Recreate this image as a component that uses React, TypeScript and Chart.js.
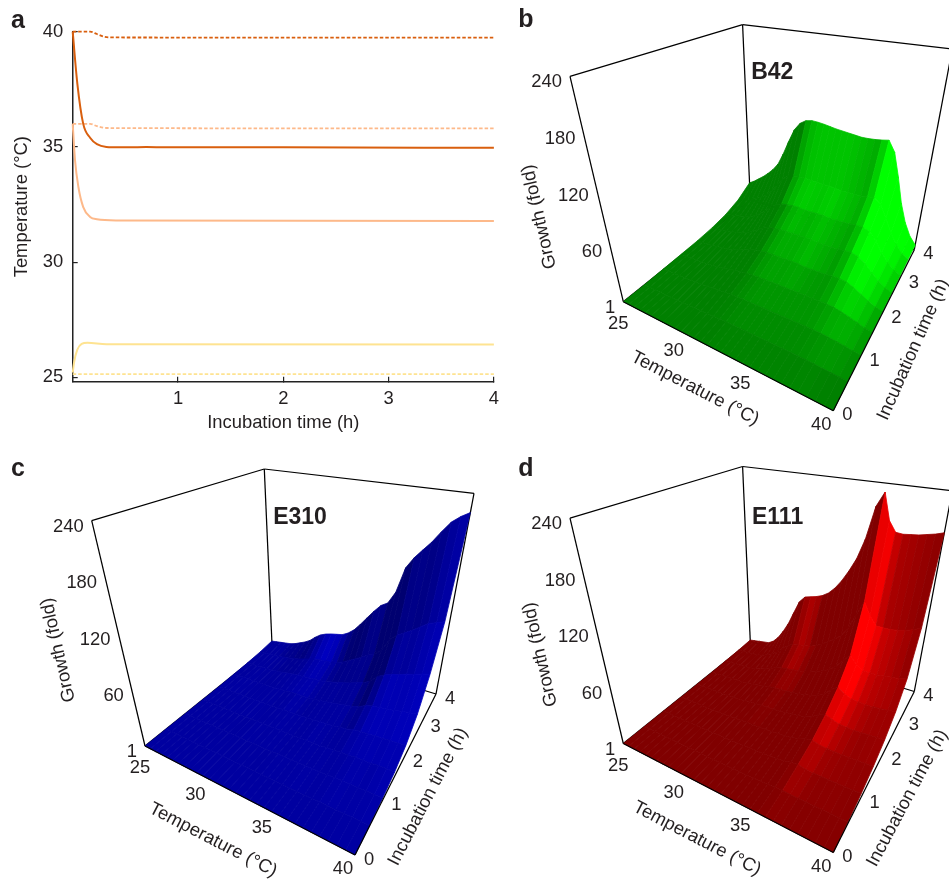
import React, { useEffect, useRef } from "react";
import { Chart, registerables } from "chart.js";

Chart.register(...registerables);

const FONT = '"Liberation Sans", Arial, sans-serif';
const INK = "#231f20";

// ---------- panel a ----------
const HOT_SOLID_T = [0, 0.044, 0.1, 0.165, 0.23, 0.32, 0.45, 0.7, 0.89, 2, 4];
const HOT_SOLID_V = [40, 37.75, 36, 35.4, 35.12, 35.0, 34.98, 35.0, 34.98, 34.98, 34.96];
const HOT_DASH_T = [0, 0.1, 0.165, 0.23, 0.3, 0.4, 4];
const HOT_DASH_V = [40, 40, 40, 39.9, 39.78, 39.75, 39.74];
const MID_SOLID_T = [0, 0.022, 0.054, 0.1, 0.165, 0.23, 0.42, 4];
const MID_SOLID_V = [36, 34.42, 33.26, 32.39, 31.96, 31.86, 31.81, 31.78];
const MID_DASH_T = [0, 0.1, 0.165, 0.23, 0.32, 4];
const MID_DASH_V = [36, 36, 36, 35.9, 35.82, 35.8];
const LOW_SOLID_T = [0, 0.013, 0.044, 0.085, 0.14, 0.32, 4];
const LOW_SOLID_V = [25.2, 25.65, 26.2, 26.45, 26.5, 26.43, 26.42];
const LOW_DASH_T = [0, 4];
const LOW_DASH_V = [25.14, 25.14];
const A_X_TICKS = [1, 2, 3, 4];
const A_Y_TICKS = [25, 30, 35, 40];

// ---------- panels b, c, d ----------
const GROWTH_TICKS = [240, 180, 120, 60, 1];
const TEMP_TICKS = [25, 30, 35, 40];
const TIME_TICKS = [0, 1, 2, 3, 4];
const TIME_ROWS = [0, 0.5, 1, 1.5, 2, 2.5, 3, 3.5, 4];
const TEMP_COLS = [25, 25.5, 26, 26.5, 27, 27.5, 28, 28.5, 29, 29.5, 30, 30.5, 31, 31.5, 32, 32.5, 33, 33.5, 34, 34.5, 35, 35.5, 36, 36.5, 37, 37.5, 38, 38.5, 39, 39.5, 40];

const START_FLAT = [1, 1, 1, 1, 1, 1, 1, 1, 1, 1, 1, 1, 1, 1, 1, 1, 1, 1, 1, 1, 1, 1, 1, 1, 1, 1, 1, 1, 1, 1, 1];

const B42_T05 = [1, 1, 1, 1, 1, 1.1, 1.2, 1.3, 1.5, 1.7, 2, 2.2, 2.5, 2.8, 3, 3, 3, 3, 3, 3, 3, 3, 3, 3, 3, 3, 2.7, 2.3, 2, 1.7, 1.5];
const B42_T1 = [1.5, 1.5, 1.5, 1.8, 2, 2.2, 2.5, 3, 3.5, 4.2, 5, 5.5, 6, 6.2, 6.5, 6.5, 6.5, 6.5, 6.5, 6.5, 6.5, 6.5, 6.5, 6.5, 6.5, 6.2, 5.7, 5, 4, 2.8, 2];
const B42_T15 = [2, 2.2, 2.5, 2.8, 3, 3.5, 4, 5, 6, 7.5, 9, 10, 11, 11.5, 12, 12, 12, 12, 12, 12, 12, 12, 12, 12, 12, 11.5, 10, 8, 6, 3.5, 2.5];
const B42_T2 = [2.5, 3, 3.5, 4, 5, 6, 7, 9, 11, 14, 16, 18, 19, 20, 20, 20, 20, 20, 20, 19, 19, 19, 19, 20, 20, 19, 16, 12, 8, 4.5, 3];
const B42_T25 = [4, 5, 6, 7, 8, 9.5, 11, 14, 17, 22, 26, 29, 30, 31, 31, 31, 31, 31, 31, 30, 30, 30, 30, 31, 31, 29, 24, 17, 11, 6, 3.5];
const B42_T3 = [7, 8.5, 10, 11.5, 13, 15, 18, 23, 28, 35, 40, 43, 44, 45, 45, 44, 44, 44, 44, 43, 43, 43, 43, 44, 44, 41, 33, 22, 14, 8, 4.5];
const B42_T35 = [13, 15, 17, 20, 23, 27, 31, 39, 48, 57, 63, 65, 66, 66, 65, 65, 64, 64, 63, 62, 62, 62, 62, 63, 64, 58, 44, 29, 18, 10, 5.5];
const B42_T4 = [24, 28, 33, 38, 44, 51, 60, 75, 93, 110, 120, 125, 126.5, 126, 125, 123.5, 122, 121, 120, 119, 118, 118, 118.5, 119.5, 121, 108, 80, 50, 29, 15, 6.5];

const E310_T05 = [1, 1, 1, 1, 1, 1, 1, 1, 1, 1, 1, 1, 1, 1, 1, 1, 1, 1, 1, 1, 1, 1, 1, 1.2, 1.2, 1.3, 1.3, 1.4, 1.5, 1.5, 1.6];
const E310_T1 = [1, 1, 1, 1, 1, 1, 1, 1, 1, 1, 1, 1, 1, 1, 1, 1.2, 1.5, 1.5, 1.5, 1.8, 2, 2, 2, 2.5, 3, 3, 3, 3, 3.5, 3.5, 3.5];
const E310_T15 = [1, 1, 1, 1, 1, 1, 1, 1, 1, 1.2, 1.5, 1.5, 1.5, 1.8, 2, 2, 2, 2.5, 3, 3, 3, 4, 4, 5, 5, 6, 6, 6, 7, 7, 7];
const E310_T2 = [1, 1, 1, 1.2, 1.3, 1.4, 1.5, 1.8, 2, 2, 2, 2.5, 3, 3, 3, 3.5, 4, 4.5, 5, 5.5, 6, 7, 8, 10, 11, 11, 12, 12, 13, 13, 14];
const E310_T25 = [1.5, 1.7, 2, 2, 2, 2.2, 2.5, 2.8, 3, 3.5, 4, 4.5, 5, 5, 5, 6, 7, 8, 9, 10.5, 12, 13, 15, 19, 21, 22, 23, 24, 26, 27, 28];
const E310_T3 = [2, 2.2, 2.5, 2.8, 3, 3.5, 4, 5, 6, 7, 8, 8.5, 9, 9.5, 10, 11, 13, 15, 17, 19, 22, 24, 28, 36, 40, 43, 45, 48, 50, 53, 55];
const E310_T35 = [3, 3.5, 4, 4.5, 5, 6, 7, 8.5, 10, 12, 14, 16, 17, 17.5, 18, 20, 23, 27, 31, 35, 40, 43, 50, 65, 72, 77, 82, 88, 94, 97, 100];
const E310_T4 = [5, 6, 7, 8, 9, 11, 14, 17, 21, 27, 32, 35, 37, 38.5, 40, 44, 50, 59, 69, 79, 88, 93, 108, 140, 154, 165, 176, 190, 203, 211, 217];

const E111_T05 = [1, 1, 1, 1, 1, 1, 1, 1, 1, 1, 1, 1, 1, 1, 1, 1, 1.2, 1.3, 1.5, 1.7, 2, 2.5, 3, 2.5, 2.5, 2.5, 2.5, 2.5, 2.5, 2.5, 2.5];
const E111_T1 = [1, 1, 1, 1, 1, 1, 1, 1, 1, 1.2, 1.5, 1.5, 1.5, 1.7, 2, 2.2, 2.5, 2.7, 3, 3.5, 4.5, 6, 7, 5.5, 5, 5, 5, 5, 5, 5.2, 5.5];
const E111_T15 = [1, 1, 1, 1, 1, 1, 1, 1.2, 1.5, 1.7, 2, 2.5, 3, 3, 3, 3.5, 4, 4.5, 5, 6, 8, 10.5, 12, 10, 9.5, 9.2, 9, 9.2, 9.5, 9.8, 10];
const E111_T2 = [1, 1, 1, 1, 1, 1.2, 1.5, 1.7, 2, 3, 4, 4.5, 5, 5.2, 5.5, 6, 7, 8, 9, 10.5, 13, 18, 21, 18, 16, 15.5, 15, 15.5, 16, 16.5, 17];
const E111_T25 = [1, 1.2, 1.5, 1.7, 2, 2.2, 2.5, 3, 4, 5.5, 7, 8, 9, 9.5, 10, 11, 12, 13.5, 15, 17.5, 21, 29, 34, 29, 26, 25.5, 25, 25.5, 26, 27, 28];
const E111_T3 = [1.5, 1.7, 2, 2.2, 2.5, 3, 4, 6, 8, 11, 14, 16, 17, 18, 19, 20, 22, 25, 28, 32, 38, 47, 55, 47, 42, 42, 42, 43, 44, 45, 47];
const E111_T35 = [2, 2.5, 3, 3.5, 4, 5.5, 8, 11.5, 16, 22, 28, 32, 33, 34, 35, 38, 42, 47, 52, 59, 70, 88, 105, 90, 80, 80, 80, 81, 83, 86, 90];
const E111_T4 = [3, 4, 5, 6, 7, 11, 18, 28, 40, 56, 72, 80, 82, 84, 87, 92, 100, 111, 125, 142, 168, 210, 229, 195, 182, 181, 182, 183, 185, 187, 190];

type P = [number, number];
type Cfg = {
  name: string; letter: string; letterAt: P; origin: P; size: P; color: number[];
  rows: number[][]; look: { floor: number; gain: number; min: number; max: number };
  nameAt: P; tempAt: P; timeAt: P; growthAt: P; timeRot: number;
};

const PANELS: Cfg[] = [
  { name: "B42", letter: "b", letterAt: [11, 20], origin: [108.3, 301.7], size: [434, 440], color: [0, 255, 0],
    rows: [START_FLAT, B42_T05, B42_T1, B42_T15, B42_T2, B42_T25, B42_T3, B42_T35, B42_T4],
    look: { floor: 0.47, gain: 1.2, min: 0.5, max: 1 },
    nameAt: [149, -229], tempAt: [71.7, 86.7], timeAt: [290, 48], growthAt: [-84, -85], timeRot: -66 },
  { name: "E310", letter: "c", letterAt: [18, 29], origin: [145, 306], size: [510, 439], color: [0, 0, 255],
    rows: [START_FLAT, E310_T05, E310_T1, E310_T15, E310_T2, E310_T25, E310_T3, E310_T35, E310_T4],
    look: { floor: 0.63, gain: 0.8, min: 0.44, max: 0.92 },
    nameAt: [155, -228], tempAt: [68, 94], timeAt: [283, 50.7], growthAt: [-86.7, -96], timeRot: -62.6 },
  { name: "E111", letter: "d", letterAt: [11, 29], origin: [108.3, 303.5], size: [434, 439], color: [255, 0, 0],
    rows: [START_FLAT, E111_T05, E111_T1, E111_T15, E111_T2, E111_T25, E111_T3, E111_T35, E111_T4],
    look: { floor: 0.49, gain: 1.25, min: 0.5, max: 1 },
    nameAt: [154.3, -226], tempAt: [73.7, 95], timeAt: [284, 54.7], growthAt: [-83, -89], timeRot: -62 },
];

// box corners relative to the (25 °C, 0 h, floor) corner: p00, p10 (40 °C), p11, p01 (4 h)
const FLOOR: P[] = [[0, 0], [210, 109], [291, -52], [127, -102]];
const TOP: P[] = [[-53.3, -225.3], [236, -158], [329, -252.7], [119.3, -277]];

function homography(q: P[]) {
  const [[x0, y0], [x1, y1], [x2, y2], [x3, y3]] = q;
  const dx1 = x1 - x2, dx2 = x3 - x2, dy1 = y1 - y2, dy2 = y3 - y2;
  const sx = x0 - x1 + x2 - x3, sy = y0 - y1 + y2 - y3;
  const det = dx1 * dy2 - dx2 * dy1;
  const g = (sx * dy2 - dx2 * sy) / det, h = (dx1 * sy - sx * dy1) / det;
  const a = x1 - x0 + g * x1, b = x3 - x0 + h * x3;
  const d = y1 - y0 + g * y1, e = y3 - y0 + h * y3;
  return (u: number, v: number): P => {
    const w = g * u + h * v + 1;
    return [(a * u + b * v + x0) / w, (d * u + e * v + y0) / w];
  };
}
const floorAt = homography(FLOOR);
const topAt = homography(TOP);

function project(cfg: Cfg, temp: number, time: number, growth: number) {
  const u = (temp - 25) / 15, v = time / 4, w = (growth - 1) / 239;
  const f = floorAt(u, v), t = topAt(u, v);
  return { x: cfg.origin[0] + f[0] + (t[0] - f[0]) * w, y: cfg.origin[1] + f[1] + (t[1] - f[1]) * w };
}

function shade(cfg: Cfg, gx: number, gy: number) {
  const len = Math.hypot(gx, gy, 1);
  const dot = (0.75 * -gx - 0.6 * -gy + 0.6) / len / 0.985;
  const s = cfg.look.floor + cfg.look.gain * (dot - 0.61);
  return Math.min(cfg.look.max, Math.max(cfg.look.min, s));
}

function soften(a: number[]) {
  return a.map((v, i) => (a[Math.max(0, i - 1)] + 2 * v + a[Math.min(a.length - 1, i + 1)]) / 4);
}

function buildDatasets(cfg: Cfg) {
  const sets: any[] = [];
  const edge = (a: number[], b: number[]) => sets.push({
    data: [project(cfg, a[0], a[1], a[2]), project(cfg, b[0], b[1], b[2])],
    showLine: true, pointRadius: 0, borderColor: "#000", borderWidth: 1.25, fill: false,
  });
  // near floor edges sit on top of the surface (dataset 0 is painted last)
  edge([25, 0, 1], [40, 0, 1]);
  edge([40, 0, 1], [40, 4, 1]);
  const { rows } = cfg;
  const temps = TEMP_COLS;
  for (let r = 0; r < rows.length - 1; r++) {
    const h0 = TIME_ROWS[r], h1 = TIME_ROWS[r + 1];
    let gxs: number[] = [], gys: number[] = [];
    for (let c = 0; c < temps.length - 1; c++) {
      const dT = (temps[c + 1] - temps[c]) / 15;
      gxs.push(((rows[r][c + 1] - rows[r][c] + rows[r + 1][c + 1] - rows[r + 1][c]) / 2 / 239) / dT);
      gys.push(((rows[r + 1][c] - rows[r][c] + rows[r + 1][c + 1] - rows[r][c + 1]) / 2 / 239) / ((h1 - h0) / 4));
    }
    gxs = soften(gxs);
    gys = soften(soften(gys));
    for (let c = temps.length - 2; c >= 0; c--) {
      const t0 = temps[c], t1 = temps[c + 1];
      const s = shade(cfg, gxs[c], gys[c]);
      const col = `rgb(${cfg.color.map((k) => Math.round(k * s)).join(",")})`;
      const a = project(cfg, t0, h0, rows[r][c]);
      sets.push({
        data: [a, project(cfg, t1, h0, rows[r][c + 1]), project(cfg, t1, h1, rows[r + 1][c + 1]), project(cfg, t0, h1, rows[r + 1][c]), a],
        showLine: true, pointRadius: 0, borderColor: col, backgroundColor: col, borderWidth: 0.8, fill: "shape",
      });
    }
  }
  edge([25, 4, 1], [40, 4, 1]);
  edge([25, 0, 1], [25, 4, 1]);
  edge([25, 0, 1], [25, 0, 240]);
  edge([25, 4, 1], [25, 4, 240]);
  edge([40, 4, 1], [40, 4, 240]);
  edge([25, 0, 240], [25, 4, 240]);
  edge([25, 4, 240], [40, 4, 240]);
  return sets;
}

function textPlugin(cfg: Cfg) {
  return {
    id: "axisText",
    afterDraw(chart: any) {
      const c = chart.ctx;
      const put = (s: string, x: number, y: number, align: CanvasTextAlign, font: string, rot = 0) => {
        c.save();
        c.translate(x, y);
        c.rotate((rot * Math.PI) / 180);
        c.font = font;
        c.fillStyle = INK;
        c.textAlign = align;
        c.textBaseline = "middle";
        c.fillText(s, 0, 0);
        c.restore();
      };
      const tick = `18.4px ${FONT}`;
      const [ox, oy] = cfg.origin;
      GROWTH_TICKS.forEach((g) => {
        const p = project(cfg, 25, 0, g);
        put(String(g), p.x - 8, p.y + 6, "right", tick);
      });
      TEMP_TICKS.forEach((t) => {
        const p = project(cfg, t, 0, 1);
        const k = (t - 25) / 15;
        put(String(t), p.x - 5 - 7 * k, p.y + 22 - 8 * k, "center", tick);
      });
      TIME_TICKS.forEach((t) => {
        const p = project(cfg, 40, t, 1);
        put(String(t), p.x + 14, p.y + 4.5, "center", tick);
      });
      put("Temperature (°C)", ox + cfg.tempAt[0], oy + cfg.tempAt[1], "center", tick, 27.4);
      put("Incubation time (h)", ox + cfg.timeAt[0], oy + cfg.timeAt[1], "center", tick, cfg.timeRot);
      put("Growth (fold)", ox + cfg.growthAt[0], oy + cfg.growthAt[1], "center", tick, -102.7);
      put(cfg.name, ox + cfg.nameAt[0], oy + cfg.nameAt[1], "center", `bold 23px ${FONT}`);
      put(cfg.letter, cfg.letterAt[0], cfg.letterAt[1], "center", `bold 25px ${FONT}`);
    },
  };
}

function series(xs: number[], ys: number[], color: string, dashed: boolean) {
  return {
    data: xs.map((x, i) => ({ x, y: ys[i] })),
    borderColor: color, borderWidth: dashed ? 1.8 : 2, borderDash: dashed ? [3.5, 2] : [],
    pointRadius: 0, showLine: true, fill: false, cubicInterpolationMode: "monotone" as const, clip: false,
  };
}

export default function App() {
  const aRef = useRef<HTMLCanvasElement>(null);
  const bRef = useRef<HTMLCanvasElement>(null);
  const cRef = useRef<HTMLCanvasElement>(null);
  const dRef = useRef<HTMLCanvasElement>(null);

  useEffect(() => {
    document.body.style.margin = "0";
    const charts: Chart[] = [];
    const tickFont = { family: FONT, size: 18.4 };
    charts.push(new Chart(aRef.current!, {
      type: "scatter",
      data: {
        datasets: [
          series(HOT_SOLID_T, HOT_SOLID_V, "#d95f0e", false),
          series(HOT_DASH_T, HOT_DASH_V, "#d95f0e", true),
          series(MID_SOLID_T, MID_SOLID_V, "#fdb98a", false),
          series(MID_DASH_T, MID_DASH_V, "#fdb98a", true),
          series(LOW_SOLID_T, LOW_SOLID_V, "#fee391", false),
          series(LOW_DASH_T, LOW_DASH_V, "#fee391", true),
        ],
      },
      options: {
        animation: false, responsive: false,
        layout: { padding: { top: 31.7, right: 16 } },
        plugins: { legend: { display: false }, tooltip: { enabled: false } },
        scales: {
          x: {
            type: "linear", min: 0, max: 4,
            afterBuildTicks: (s: any) => { s.ticks = A_X_TICKS.map((value) => ({ value })); },
            afterFit: (s: any) => { s.height = 58.3; },
            grid: { drawOnChartArea: false, tickLength: -5, color: "#222", lineWidth: 1.2 },
            border: { color: "#222", width: 1.5 },
            ticks: { font: tickFont, color: INK, padding: 11, maxRotation: 0, autoSkip: false },
            title: { display: true, text: "Incubation time (h)", font: tickFont, color: INK, padding: { top: 0, bottom: 6 } },
          },
          y: {
            type: "linear", min: 24.81, max: 40,
            afterBuildTicks: (s: any) => { s.ticks = A_Y_TICKS.map((value) => ({ value })); },
            afterFit: (s: any) => { s.width = 72.7; },
            grid: { drawOnChartArea: false, tickLength: -5, color: "#222", lineWidth: 1.2 },
            border: { color: "#222", width: 1.5 },
            ticks: { font: tickFont, color: INK, padding: 14.4, autoSkip: false },
            title: { display: true, text: "Temperature (°C)", font: tickFont, color: INK, padding: { top: 11, bottom: 0 } },
          },
        },
      },
      plugins: [{
        id: "letterA",
        afterDraw(chart: any) {
          const c = chart.ctx;
          c.save();
          c.font = `bold 25px ${FONT}`;
          c.fillStyle = INK;
          c.textAlign = "center";
          c.textBaseline = "middle";
          c.fillText("a", 18, 21);
          c.restore();
        },
      }],
    } as any));

    [bRef, cRef, dRef].forEach((ref, i) => {
      const cfg = PANELS[i];
      charts.push(new Chart(ref.current!, {
        type: "scatter",
        data: { datasets: buildDatasets(cfg) },
        options: {
          animation: false, responsive: false,
          layout: { padding: 0 },
          plugins: { legend: { display: false }, tooltip: { enabled: false } },
          scales: {
            x: { type: "linear", display: false, min: 0, max: cfg.size[0] },
            y: { type: "linear", display: false, min: 0, max: cfg.size[1], reverse: true },
          },
        },
        plugins: [textPlugin(cfg)],
      } as any));
    });
    return () => charts.forEach((c) => c.destroy());
  }, []);

  const place = (left: number, top: number): React.CSSProperties => ({ position: "absolute", left, top });
  return (
    <div style={{ position: "absolute", left: 0, top: 0, width: 949, height: 879, overflow: "hidden", background: "#fff" }}>
      <canvas ref={aRef} width={510} height={440} style={place(0, 0)} />
      <canvas ref={bRef} width={434} height={440} style={place(515, 0)} />
      <canvas ref={cRef} width={510} height={439} style={place(0, 440)} />
      <canvas ref={dRef} width={434} height={439} style={place(515, 440)} />
    </div>
  );
}
